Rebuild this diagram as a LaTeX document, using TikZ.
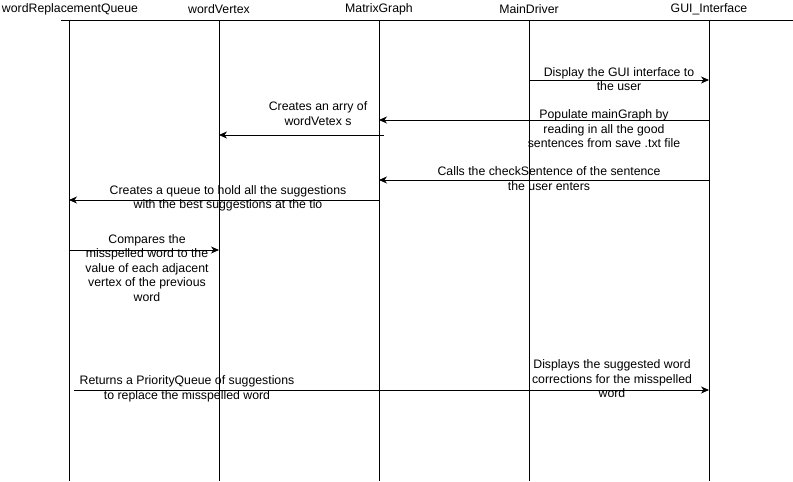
\documentclass[tikz,border=0pt]{standalone}
\usepackage{fontspec}
\setmainfont{Liberation Sans}
\usetikzlibrary{arrows.meta}
\begin{document}
\begin{tikzpicture}[x=1pt,y=-1pt,
  every node/.style={font=\fontsize{12.3}{14.5}\selectfont, text=black, inner sep=0pt},
  head/.style={anchor=center},
  life/.style={draw=black, line width=0.8pt},
  msg/.style={draw=black, line width=0.8pt, -{Stealth[length=8pt,width=7pt,inset=2.5pt]}},
  lbl/.style={align=center}
]
\useasboundingbox (0,0) rectangle (793,482);
\fill[white] (0,0) rectangle (793,482);
% heads
\node[head] (hq) at (70,9) {wordReplacementQueue};
\node[head] (hv) at (219,9) {wordVertex};
\node[head] (hm) at (379,9) {MatrixGraph};
\node[head] (hd) at (529,9) {MainDriver};
\node[head] (hg) at (709,9) {GUI\_Interface};
% top line
\coordinate (tl) at (61,20);
\coordinate (tr) at (793,20);
\draw[life] (tl) -- (tr);
% lifelines
\foreach \n/\x in {q/69,v/219,m/379,d/529,g/709}{
  \coordinate (\n top) at (\x,20);
  \coordinate (\n bot) at (\x,481);
  \draw[life] (\n top) -- (\n bot);
}
% message endpoints
\coordinate (d1) at (529,80);  \coordinate (g1) at (709,80);
\coordinate (g2) at (709,120); \coordinate (m2) at (379,120);
\coordinate (m3) at (384,135); \coordinate (v3) at (219,135);
\coordinate (g4) at (709,180); \coordinate (m4) at (379,180);
\coordinate (m5) at (379,200); \coordinate (q5) at (69,200);
\coordinate (q6) at (69,250);  \coordinate (v6) at (219,250);
\coordinate (s7) at (74,390);  \coordinate (g7) at (709,390);
\draw[msg] (d1) -- (g1);
\draw[msg] (g2) -- (m2);
\draw[msg] (m3) -- (v3);
\draw[msg] (g4) -- (m4);
\draw[msg] (m5) -- (q5);
\draw[msg] (q6) -- (v6);
\draw[msg] (s7) -- (g7);
% labels
\node[lbl] (l1) at (619,79) {Display the GUI interface to\\the user};
\node[lbl] (l2) at (604,129) {Populate mainGraph by\\reading in all the good\\sentences from save .txt file};
\node[lbl] (l3) at (318,113.5) {Creates an arry of\\wordVetex s};
\node[lbl] (l4) at (549,178.5) {Calls the checkSentence of the sentence\\the user enters};
\node[lbl] (l5) at (228,198.5) {Creates a queue to hold all the suggestions\\with the best suggestions at the tio};
\node[lbl] (l6) at (147,268) {Compares the\\misspelled word to the\\value of each adjacent\\vertex of the previous\\word};
\node[lbl] (l7) at (187,389) {Returns a PriorityQueue of suggestions\\to replace the misspelled word};
\node[lbl] (l8) at (612,379) {Displays the suggested word\\corrections for the misspelled\\word};
\end{tikzpicture}
\end{document}
